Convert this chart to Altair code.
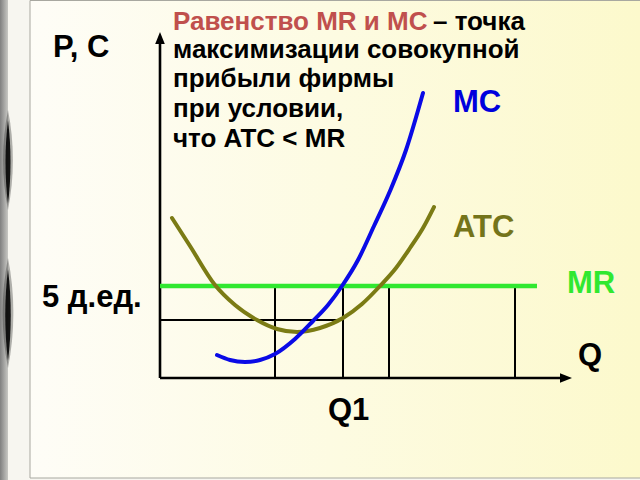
import altair as alt
import pandas as pd

# ---- data (Q units, price units) ----
MC_Q = [5.7, 7.0, 8.5, 10.0, 11.5, 13.5, 15.3, 16.8, 18.2, 19.8, 21.4, 23.0, 24.6, 26.3]
MC_P = [2.3, 1.8, 1.6, 1.8, 2.4, 3.9, 5.7, 7.3, 9.2, 11.8, 15.2, 18.7, 22.8, 28.5]
ATC_Q = [1.2, 3.0, 5.5, 7.5, 9.7, 11.7, 13.7, 16.0, 18.3, 20.2, 22.0, 23.6, 25.0, 26.3, 27.4]
ATC_P = [16.0, 13.2, 9.3, 7.3, 5.8, 4.9, 4.6, 5.0, 6.0, 7.4, 9.2, 11.0, 13.0, 15.0, 17.1]
MR_P = 9.2
MR_Q_END = 37.7
GRID_Q = [11.5, 18.3, 22.9, 35.5]
Q1 = 18.3
ATC_AT_Q1 = 5.8
AXIS_Q_END = 40.0
AXIS_P_END = 33.4

TITLE_LINES = ["максимизации совокупной", "прибыли фирмы", "при условии,", "что ATC < MR"]
TITLE_P = [32.0, 29.1, 26.1, 23.1]
TITLE_RED = "Равенство MR и MC"
TITLE_BLACK = "– точка"

LABELS = ["P, C", "5 д.ед.", "MC", "ATC", "MR", "Q", "Q1"]
LABEL_Q = [-10.7, -11.8, 29.3, 29.3, 40.7, 41.8, 16.8]
LABEL_P = [32.1, 7.1, 26.6, 14.1, 8.5, 1.3, -4.2]
LABEL_COL = ["#000000", "#000000", "#0000dd", "#74741a", "#30e830", "#000000", "#000000"]

FONT = "Liberation Sans"

xs = alt.Scale(domain=[-16, 48], nice=False, zero=False)
ys = alt.Scale(domain=[-10.2, 37.8], nice=False, zero=False)
X = lambda f: alt.X(f, type="quantitative", scale=xs, axis=None)
Y = lambda f: alt.Y(f, type="quantitative", scale=ys, axis=None)

one = pd.DataFrame({"a": [0]})

# ---- background decoration ----
panel = alt.Chart(one).mark_rect(
    color=alt.Gradient(gradient="linear", x1=0, y1=0, x2=1, y2=0,
                       stops=[alt.GradientStop(color="#fefdf7", offset=0),
                              alt.GradientStop(color="#fcf9cc", offset=1)]),
    stroke="#a8a8a0", strokeWidth=1,
).encode(x=alt.value(30), x2=alt.value(641), y=alt.value(0.5), y2=alt.value(478))

strip = alt.Chart(one).mark_rect(
    color=alt.Gradient(gradient="linear", x1=0, y1=0, x2=1, y2=0,
                       stops=[alt.GradientStop(color="#808080", offset=0),
                              alt.GradientStop(color="#c8c8c4", offset=1)]),
).encode(x=alt.value(0), x2=alt.value(8), y=alt.value(0), y2=alt.value(480))

SPINDLE_WIDE = "M0,-1C0.13,-0.35 0.13,0.35 0,1C-0.13,0.35 -0.13,-0.35 0,-1Z"
SPINDLE_NARROW = "M0,-1C0.08,-0.35 0.08,0.35 0,1C-0.08,0.35 -0.08,-0.35 0,-1Z"
def spindle(shape, cx, cy, size, op):
    return alt.Chart(one).mark_point(shape=shape, size=size, filled=True, color="#0a0a0a",
                                     opacity=op, strokeWidth=0).encode(
        x=alt.value(cx), y=alt.value(cy))

decor = [spindle(SPINDLE_WIDE, 8, 160, 10000, 0.3), spindle(SPINDLE_NARROW, 8, 162, 7000, 0.95),
         spindle(SPINDLE_WIDE, 8, 313, 12100, 0.3), spindle(SPINDLE_NARROW, 8, 315, 8400, 0.95)]

# ---- economic lines ----
mc_df = pd.DataFrame({"Q": MC_Q, "P": MC_P})
atc_df = pd.DataFrame({"Q": ATC_Q, "P": ATC_P})

grid_df = pd.DataFrame({"Q": GRID_Q, "P0": [0] * len(GRID_Q), "P1": [MR_P] * len(GRID_Q)})
grid = alt.Chart(grid_df).mark_rule(color="#000000", strokeWidth=2).encode(
    x=X("Q"), y=Y("P0"), y2="P1")

hline = alt.Chart(pd.DataFrame({"Q0": [0], "Q1": [Q1], "P": [ATC_AT_Q1]})).mark_rule(
    color="#000000", strokeWidth=2).encode(x=X("Q0"), x2="Q1", y=Y("P"))

axes_df = pd.DataFrame({"Q0": [0, 0], "Q1": [AXIS_Q_END, 0], "P0": [0, 0], "P1": [0, AXIS_P_END]})
axes = alt.Chart(axes_df).mark_rule(color="#000000", strokeWidth=2.6).encode(
    x=X("Q0"), x2="Q1", y=Y("P0"), y2="P1")

arrow_up = alt.Chart(pd.DataFrame({"Q": [0], "P": [34.0]})).mark_point(
    shape="M0,-1L0.8,1L-0.8,1Z", size=144, filled=True, color="#000000", opacity=1
).encode(x=X("Q"), y=Y("P"))
arrow_right = alt.Chart(pd.DataFrame({"Q": [40.6], "P": [0]})).mark_point(
    shape="M1,0L-1,0.8L-1,-0.8Z", size=144, filled=True, color="#000000", opacity=1
).encode(x=X("Q"), y=Y("P"))

mr = alt.Chart(pd.DataFrame({"Q0": [0], "Q1": [MR_Q_END], "P": [MR_P]})).mark_rule(
    color="#30e830", strokeWidth=4.5).encode(x=X("Q0"), x2="Q1", y=Y("P"))

atc = alt.Chart(atc_df).mark_line(color="#7b7b14", strokeWidth=4, interpolate="monotone",
                                  strokeCap="round").encode(x=X("Q"), y=Y("P"), order="Q:Q")
mc = alt.Chart(mc_df).mark_line(color="#0a0ae6", strokeWidth=4, interpolate="monotone",
                                strokeCap="round").encode(x=X("Q"), y=Y("P"), order="Q:Q")

# ---- texts ----
lab_df = pd.DataFrame({"t": LABELS, "Q": LABEL_Q, "P": LABEL_P, "c": LABEL_COL})
labels = alt.Chart(lab_df).mark_text(font=FONT, fontSize=31, fontWeight="bold",
                                     align="left", baseline="alphabetic").encode(
    x=X("Q"), y=Y("P"), text="t:N", color=alt.Color("c:N", scale=None))

tl_df = pd.DataFrame({"t": TITLE_LINES, "Q": [1.3] * len(TITLE_LINES), "P": TITLE_P})
title_lines = alt.Chart(tl_df).mark_text(font=FONT, fontSize=26, fontWeight="bold",
                                         align="left", baseline="alphabetic", color="#000000").encode(
    x=X("Q"), y=Y("P"), text="t:N")
t_red = alt.Chart(pd.DataFrame({"t": [TITLE_RED], "Q": [1.3], "P": [34.8]})).mark_text(
    font=FONT, fontSize=26, fontWeight="bold", align="left", baseline="alphabetic",
    color="#c0504d").encode(x=X("Q"), y=Y("P"), text="t:N")
t_black = alt.Chart(pd.DataFrame({"t": [TITLE_BLACK], "Q": [27.3], "P": [34.8]})).mark_text(
    font=FONT, fontSize=26, fontWeight="bold", align="left", baseline="alphabetic",
    color="#000000").encode(x=X("Q"), y=Y("P"), text="t:N")

chart = alt.layer(
    panel, strip, *decor, grid, hline, axes, arrow_up, arrow_right, mr, atc, mc,
    labels, title_lines, t_red, t_black
).properties(
    width=640, height=480, autosize=alt.AutoSizeParams(type="none"), padding=0,
    background="#f7f6f0"
).configure_view(stroke=None)

chart.save("out.html", embed_options={"renderer": "svg", "actions": False})
